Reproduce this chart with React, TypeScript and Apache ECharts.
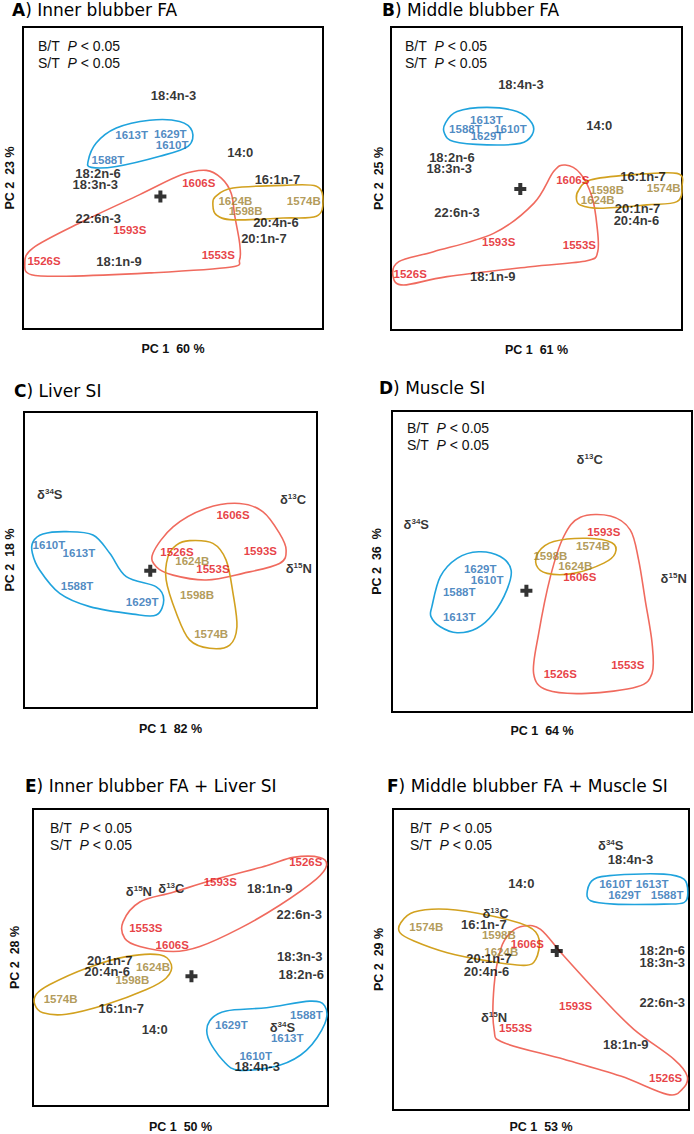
import React, { useEffect, useRef } from "react";
import * as echarts from "echarts";

const FONT = "'Liberation Sans', Arial, sans-serif";
const TFONT = "'DejaVu Sans', 'Liberation Sans', sans-serif";

// ---------- Panel A: Inner blubber FA ----------
const aNames = ["18:4n-3","1613T","1629T","1610T","1588T","14:0","18:2n-6","18:3n-3","1606S","16:1n-7","1624B","1574B","1598B","22:6n-3","20:4n-6","1593S","20:1n-7","1553S","1526S","18:1n-9"];
const aX = [50.2,36.2,49.1,49.7,28.3,72.4,25.0,24.1,58.6,84.8,70.8,93.6,74.2,25.1,84.3,35.6,80.3,65.1,7.0,32.0];
const aY = [77.8,64.8,65.0,61.3,56.2,58.9,51.9,48.1,48.6,49.7,42.8,42.8,39.3,36.7,35.6,33.1,30.2,24.6,22.8,22.6];
const aCross = [45.8, 44.2];
const aHullT = [[21.7,55.9],[24.4,62.0],[31.1,67.0],[42.2,69.6],[52.2,69.2],[56.4,65.9],[55.0,60.9],[45.6,57.6],[31.1,54.2],[22.8,53.9]];
const aHullS = [[61.1,52.9],[66.1,50.3],[69.4,45.3],[70.6,37.6],[72.2,28.7],[72.2,23.1],[68.9,20.6],[42.2,18.7],[14.4,17.6],[2.8,18.1],[0.6,21.4],[3.3,27.0],[20.0,35.9],[38.9,44.8],[52.8,51.4]];
const aHullB = [[64.2,44.2],[70,47],[86.7,47.9],[97.8,47.6],[100,42.6],[97.8,37.6],[86.7,37],[70,36.4],[64.4,38.1],[63.3,41.4]];

// ---------- Panel B: Middle blubber FA ----------
const bNames = ["18:4n-3","1613T","1588T","1610T","1629T","14:0","18:2n-6","18:3n-3","1606S","16:1n-7","1598B","1574B","1624B","20:1n-7","22:6n-3","20:4n-6","1593S","1553S","1526S","18:1n-9"];
const bX = [43.3,31.8,24.8,39.8,32.0,69.4,20.3,19.4,60.6,84.0,72.0,90.9,68.9,82.2,22.0,81.8,35.9,62.8,6.4,33.9];
const bY = [82.0,70.0,67.0,67.0,64.7,68.2,57.6,53.9,50.0,51.1,46.7,47.2,43.3,40.6,39.3,36.6,29.4,28.3,18.7,17.8];
const bCross = [43.1, 47.0];
const bHullT = [[18.1,68.9],[22,72.8],[32,74.2],[42,72.8],[47,68.9],[47,65],[43.1,62.2],[32,61.7],[20.9,62.8],[17.8,65.6]];
const bHullS = [[58.1,55],[63.1,52.2],[67,44.4],[68.7,34.4],[68.9,26.1],[65.3,23.1],[46.4,21.1],[18.7,17.8],[4.2,15],[0.7,17.8],[2.6,22.8],[14.2,26.1],[34.2,32.2],[47.6,42.2],[54.2,52.8]];
const bHullB = [[62.6,46.7],[66.4,50],[79.8,51.7],[95.3,52.2],[97,47.8],[95.3,42.8],[85.3,41.7],[69.8,40.6],[63.1,41.7],[61.8,43.9]];

// ---------- Panel C: Liver SI ----------
const cNames = ["δ34S","δ13C","1606S","1610T","1613T","1526S","1593S","1624B","1553S","δ15N","1588T","1598B","1629T","1574B"];
const cX = [8.6,89.7,69.7,8.3,18.3,51.0,78.8,56.1,63.0,91.6,17.7,57.7,39.4,62.4];
const cY = [71.2,69.6,64.3,54.2,51.8,52.1,52.2,48.9,46.2,46.6,40.7,37.6,35.4,24.7];
const cCross = [42.1, 45.8];
const cHullT = [[3,55.4],[6.3,58],[14.1,58.8],[23,57.7],[28.6,51.6],[34.1,43.8],[44.1,40.4],[46.6,36],[44.1,31],[36.3,31.3],[21.9,33.8],[11.9,38.2],[5.2,46],[2.8,51.6]];
const cHullS = [[43,51.6],[49.7,60.4],[60.8,66.6],[71.9,68.2],[79.7,65.4],[85.2,58.2],[87.4,52.7],[85.2,48.2],[73,44.9],[60.8,42.7],[49.7,44.3],[44.1,47.1]];
const cHullB = [[55.2,55.8],[63,54.9],[67.4,49.3],[69.7,38.2],[71,27.1],[68.6,21],[61.9,19.9],[55.2,22.7],[50.8,31.6],[47.4,42.7],[48,50.4],[50.8,54.3]];

// ---------- Panel D: Muscle SI ----------
const dNames = ["δ13C","δ34S","1593S","1574B","1598B","1629T","1624B","1606S","1610T","δ15N","1588T","1613T","1553S","1526S"];
const dX = [65.9,8.1,70.6,67.0,52.8,29.4,61.1,62.6,31.7,93.9,22.4,22.4,78.6,56.1];
const dY = [84.3,62.4,60.1,55.3,52.0,47.7,48.7,45.1,44.0,44.6,40.1,31.8,15.7,12.7];
const dCross = [44.8, 40.4];
const dHullT = [[13.3,35.1],[16.1,45.1],[21.7,51.2],[28.9,53.4],[36.1,51.8],[39.7,47.3],[38.3,40.7],[33.9,32.9],[28.3,27.9],[21.7,26.4],[16.1,28.4],[13,31.8]];
const dHullS = [[62.8,64.9],[72.8,65.3],[79.4,60.7],[82.2,50.7],[84.4,37.3],[86.7,22.9],[86.7,12.9],[81.7,8.4],[65,6.2],[51.7,7.3],[47.2,12.9],[48.9,26.2],[52.8,45.1],[57.2,58.4]];
const dHullB = [[48.9,53.4],[53.9,56.8],[65,57.9],[73.3,56.4],[74.4,52.9],[70.6,49.6],[60.6,46.2],[51.7,46.2],[48.1,49]];

// ---------- Panel E: Inner blubber FA + Liver SI ----------
const eNames = ["1526S","δ15N","δ13C","1593S","18:1n-9","22:6n-3","1553S","1606S","18:3n-3","20:1n-7","1624B","20:4n-6","18:2n-6","1598B","1574B","16:1n-7","1588T","1629T","δ34S","14:0","1613T","1610T","18:4n-3"];
const eX = [90.9,35.3,46.1,62.4,78.9,88.7,37.6,46.4,88.9,25.6,40.0,24.7,89.4,33.1,9.2,29.4,91.1,66.1,83.1,40.6,84.7,74.2,74.7];
const eY = [82.3,72.2,73.4,75.3,73.4,64.6,59.8,54.2,50.3,49.0,46.8,45.3,44.2,42.3,36.1,32.9,30.7,27.2,26.4,25.6,22.8,16.9,13.3];
const eCross = [52.8, 43.7];
const eHullS = [[30,62],[35.6,68.7],[46.7,72],[61.1,76.4],[77.8,80.9],[86.7,83.7],[95.6,83.7],[97.8,80.9],[94.4,76.4],[82.2,67.6],[68.9,59.8],[55.6,53.7],[46.7,52],[35.6,53.7],[30.6,56.4]];
const eHullB = [[1.1,37.6],[5.6,40.9],[17.8,46.4],[31.1,50.3],[42.2,50.9],[46.1,47.6],[44.4,43.1],[37.8,39.2],[24.4,34.2],[11.1,30.9],[3.3,31.4],[0.6,34.2]];
const eHullT = [[58.9,28.7],[64.4,32],[77.8,33.1],[92.2,35.3],[97.2,33.7],[97.2,27.6],[91.1,18.7],[82.2,13.7],[68.9,12],[63.3,15.3],[58.3,23.1]];

// ---------- Panel F: Middle blubber FA + Muscle SI ----------
const fNames = ["δ34S","18:4n-3","14:0","1610T","1613T","1629T","1588T","δ13C","1574B","16:1n-7","1598B","1606S","1624B","18:2n-6","20:1n-7","18:3n-3","20:4n-6","1593S","22:6n-3","δ15N","1553S","18:1n-9","1526S"];
const fX = [72.6,79.2,42.8,74.2,86.4,77.2,91.4,34.2,11.1,30.3,35.3,44.8,36.1,89.8,32.0,89.8,31.2,60.9,89.8,33.7,40.9,77.6,90.9];
const fY = [88.2,83.6,75.4,75.4,75.4,71.8,71.8,65.4,61.1,61.8,58.3,55.2,52.8,53.0,50.4,49.3,46.3,34.7,35.8,30.8,27.2,21.7,10.6];
const fCross = [54.6, 53.0];
const fHullT = [[64.8,73],[67,76.9],[73.7,78.2],[90.3,78.6],[97,76.9],[98.3,72.4],[97,69.1],[90.3,68.6],[73.7,68.6],[65.9,69.7]];
const fHullB = [[2.6,62.4],[7,66],[18.1,66.9],[32.6,64.7],[44.8,61.3],[48.7,56.9],[47.6,50.2],[43.7,48.2],[31.4,49.7],[18.1,52.4],[7,56.3],[2.3,59.1]];
const fHullS = [[39.2,59.1],[43.7,61.3],[49.2,60.2],[57,51.3],[69.2,38],[80.3,26.9],[93.7,16.9],[98.1,11.3],[96.4,6.9],[91.4,5.2],[75.9,11.3],[57,16.9],[37,22.4],[33.7,26.9],[33.7,41.3],[35.9,53.6]];

// Titles and axis names
const panelLetters = ["A", "B", "C", "D", "E", "F"];
const panelTitles = ["Inner blubber FA", "Middle blubber FA", "Liver SI", "Muscle SI", "Inner blubber FA + Liver SI", "Middle blubber FA + Muscle SI"];
const pc1Names = ["PC 1  60 %", "PC 1  61 %", "PC 1  82 %", "PC 1  64 %", "PC 1  50 %", "PC 1  53 %"];
const pc2Names = ["PC 2  23 %", "PC 2  25 %", "PC 2  18 %", "PC 2  36  %", "PC 2  28 %", "PC 2  29 %"];
const showStats = [true, true, false, true, true, true];

// colours
const TEXT_T = "#1f6db3", HULL_T = "#1fa3dd";
const TEXT_S = "#e10e14", HULL_S = "#f06a5e";
const TEXT_B = "#9e812f", HULL_B = "#d2a11f";

// Layout (pixels)
const layout = [
  { grid: [23, 27, 300, 302], xMax: 100, yMax: 100.7, title: [12, 1], stats: [38, 37], yGap: 7, xGap: 13 },
  { grid: [391, 27, 291, 303], xMax: 97, yMax: 101, title: [382, 1], stats: [405, 37], yGap: 6, xGap: 13 },
  { grid: [24, 412, 293, 296], xMax: 97.7, yMax: 98.7, title: [14, 382], stats: [0, 0], yGap: 8, xGap: 14 },
  { grid: [392, 411, 300, 301], xMax: 100, yMax: 100.3, title: [379, 379], stats: [407, 419], yGap: 9, xGap: 12 },
  { grid: [33, 809, 295, 300], xMax: 98.3, yMax: 100, title: [25, 777], stats: [50, 819], yGap: 12, xGap: 14 },
  { grid: [393, 809, 296, 301], xMax: 98.7, yMax: 100.3, title: [387, 777], stats: [410, 819], yGap: 8, xGap: 10 },
];

const panelData = [
  { names: aNames, xs: aX, ys: aY, cross: aCross, hulls: [[aHullS, HULL_S], [aHullB, HULL_B], [aHullT, HULL_T]] },
  { names: bNames, xs: bX, ys: bY, cross: bCross, hulls: [[bHullS, HULL_S], [bHullB, HULL_B], [bHullT, HULL_T]] },
  { names: cNames, xs: cX, ys: cY, cross: cCross, hulls: [[cHullS, HULL_S], [cHullB, HULL_B], [cHullT, HULL_T]] },
  { names: dNames, xs: dX, ys: dY, cross: dCross, hulls: [[dHullS, HULL_S], [dHullB, HULL_B], [dHullT, HULL_T]] },
  { names: eNames, xs: eX, ys: eY, cross: eCross, hulls: [[eHullS, HULL_S], [eHullB, HULL_B], [eHullT, HULL_T]] },
  { names: fNames, xs: fX, ys: fY, cross: fCross, hulls: [[fHullS, HULL_S], [fHullB, HULL_B], [fHullT, HULL_T]] },
];

const isSample = (n: string) => /^\d{4}[TSB]$/.test(n);
const colorOf = (n: string) => {
  if (!isSample(n)) return "#000";
  const c = n[4];
  return c === "T" ? TEXT_T : c === "S" ? TEXT_S : TEXT_B;
};
const fmtName = (n: string) => n.replace(/^δ(\d+)([A-Z])$/, "δ{sup|$1}$2");

const PLUS = "path://M4,0H8V4H12V8H8V12H4V8H0V4H4Z";

function buildOption() {
  const grid: any[] = [];
  const xAxis: any[] = [];
  const yAxis: any[] = [];
  const series: any[] = [];
  const title: any[] = [];

  layout.forEach((L, i) => {
    const P = panelData[i];
    grid.push({
      left: L.grid[0], top: L.grid[1], width: L.grid[2], height: L.grid[3],
      show: true, borderColor: "#000", borderWidth: 2, backgroundColor: "transparent",
    });
    const nameStyle = { fontFamily: FONT, fontWeight: "bold", fontSize: 12.5, color: "#111" };
    xAxis.push({
      type: "value", gridIndex: i, min: 0, max: L.xMax,
      axisLine: { show: false }, axisTick: { show: false }, axisLabel: { show: false }, splitLine: { show: false },
      name: pc1Names[i], nameLocation: "middle", nameGap: L.xGap, nameTextStyle: nameStyle,
    });
    yAxis.push({
      type: "value", gridIndex: i, min: 0, max: L.yMax,
      axisLine: { show: false }, axisTick: { show: false }, axisLabel: { show: false }, splitLine: { show: false },
      name: pc2Names[i], nameLocation: "middle", nameGap: L.yGap, nameTextStyle: nameStyle,
    });

    // hull outlines
    const hulls = P.hulls;
    series.push({
      type: "custom", xAxisIndex: i, yAxisIndex: i, clip: false, silent: true, z: 1,
      data: hulls.map((h: any, k: number) => [h[0][0][0], h[0][0][1], k]),
      renderItem: (params: any, api: any) => {
        const h: any = hulls[params.dataIndex];
        const pts = h[0].map((q: number[]) => api.coord(q));
        const n = pts.length;
        let d = `M${pts[0][0]},${pts[0][1]}`;
        for (let j = 0; j < n; j++) {
          const p0 = pts[(j - 1 + n) % n], p1 = pts[j], p2 = pts[(j + 1) % n], p3 = pts[(j + 2) % n];
          const c1x = p1[0] + (p2[0] - p0[0]) / 6, c1y = p1[1] + (p2[1] - p0[1]) / 6;
          const c2x = p2[0] - (p3[0] - p1[0]) / 6, c2y = p2[1] - (p3[1] - p1[1]) / 6;
          d += ` C${c1x},${c1y} ${c2x},${c2y} ${p2[0]},${p2[1]}`;
        }
        d += " Z";
        return { type: "path", shape: { pathData: d }, style: { fill: "none", stroke: h[1], lineWidth: 1.6 } };
      },
    });

    // text labels
    series.push({
      type: "scatter", xAxisIndex: i, yAxisIndex: i, z: 3, silent: true,
      symbolSize: 1, itemStyle: { color: "transparent" },
      data: P.names.map((nm: string, j: number) => ({
        name: nm, value: [P.xs[j], P.ys[j]],
        label: { color: colorOf(nm), fontSize: isSample(nm) ? 11.5 : 13 },
      })),
      label: {
        show: true, position: "inside", fontFamily: FONT, fontWeight: "bold",
        formatter: (p: any) => fmtName(p.name),
        rich: { sup: { fontSize: 8, fontWeight: "bold", fontFamily: FONT, color: "#000", verticalAlign: "top", padding: [0, 0, 6, 0] } },
      },
    });

    // origin cross
    series.push({
      type: "scatter", xAxisIndex: i, yAxisIndex: i, z: 4, silent: true,
      symbol: PLUS, symbolSize: 12, itemStyle: { color: "#000" },
      data: [P.cross],
    });

    title.push({
      text: `{b|${panelLetters[i]}}) ${panelTitles[i]}`,
      left: L.title[0], top: L.title[1], padding: 0,
      textStyle: {
        fontFamily: TFONT, fontSize: 17, fontWeight: "normal", color: "#000",
        rich: { b: { fontFamily: TFONT, fontSize: 17, fontWeight: "bold", color: "#000" } },
      },
    });
    if (showStats[i]) {
      title.push({
        text: "B/T  {i|P} < 0.05\nS/T  {i|P} < 0.05",
        left: L.stats[0], top: L.stats[1], padding: 0,
        textStyle: {
          fontFamily: FONT, fontSize: 14, fontWeight: "normal", color: "#111", lineHeight: 17,
          rich: { i: { fontFamily: FONT, fontSize: 14, fontStyle: "italic", color: "#111", lineHeight: 17 } },
        },
      });
    }
  });

  return { animation: false, backgroundColor: "#fff", title, grid, xAxis, yAxis, series };
}

export default function App() {
  const ref = useRef<HTMLDivElement>(null);
  useEffect(() => {
    if (!ref.current) return;
    const chart = echarts.init(ref.current, undefined, { renderer: "svg" });
    chart.setOption(buildOption() as any);
    return () => chart.dispose();
  }, []);
  return <div ref={ref} style={{ position: "absolute", left: 0, top: 0, width: 694, height: 1134 }} />;
}
